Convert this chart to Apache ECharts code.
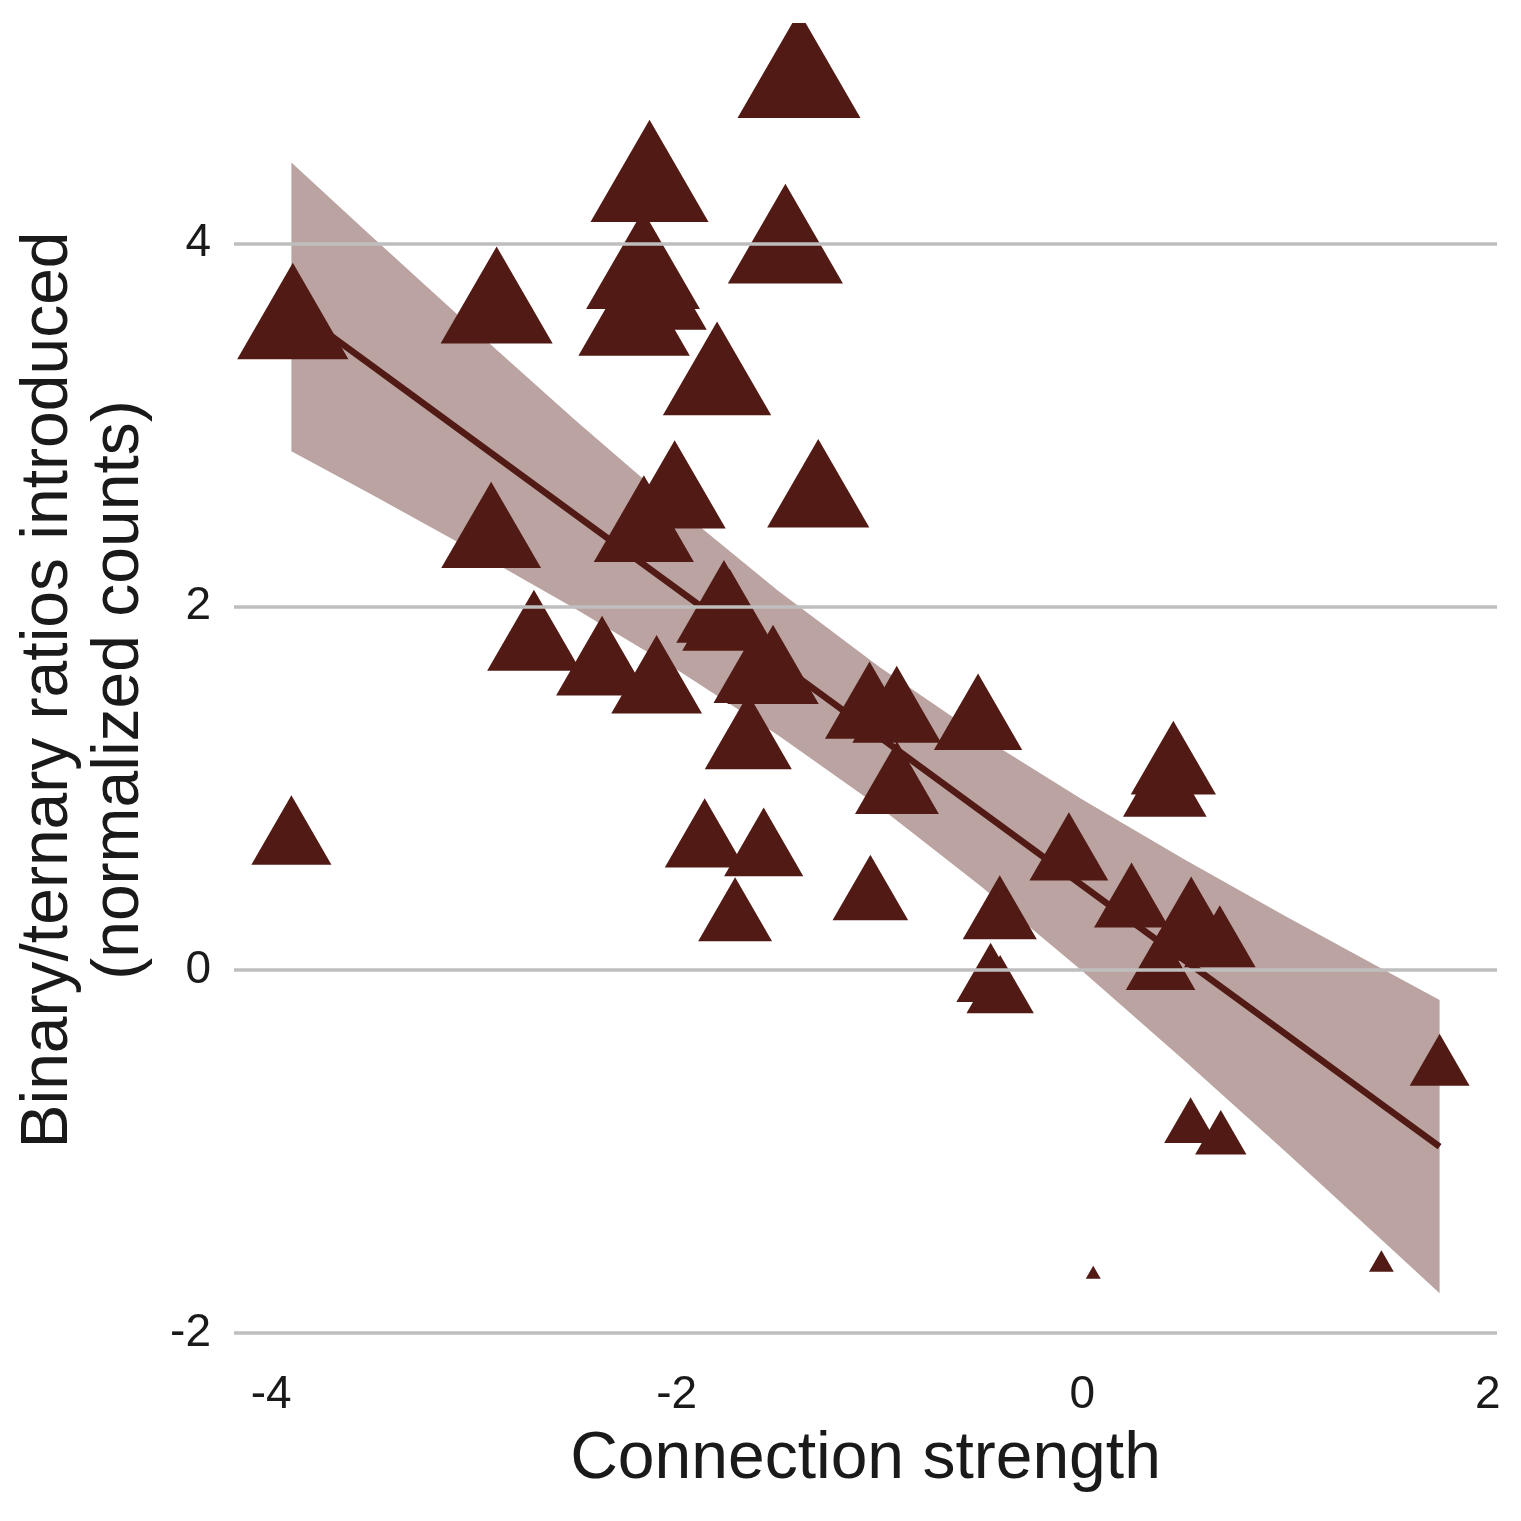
<!DOCTYPE html>
<html lang="en">
  <head>
    <meta charset="UTF-8" />
    <title>Connection strength vs binary/ternary ratios</title>
    <script src="https://cdn.jsdelivr.net/npm/echarts@6/dist/echarts.min.js"></script>
    <style>
      html, body { margin: 0; padding: 0; background: #fff; }
      #main { width: 1521px; height: 1521px; }
    </style>
  </head>
  <body>
    <div id="main"></div>

    <script>
      // points (x = connection strength, y = normalized counts)
      const pointX = [
        -3.893, -2.888, -1.397, -2.134, -1.464, -2.166, -2.130, -2.210, -1.801,
        -2.915, -2.010, -2.162, -1.302, -2.704, -2.368, -2.099, -1.767, -1.739,
        -1.525, -1.593, -1.647, -1.862, -1.571, -1.712, -1.045, -0.407, -0.452,
        -0.405, -1.049, -0.915, -0.514, -0.914, 0.449, 0.407, -0.066, 0.243,
        0.537, 0.493, 0.678, 0.386, 1.762, 0.534, 0.683, 0.054, 1.475, -3.900
      ];
      const pointY = [
        3.541, 3.628, 4.888, 4.307, 3.964, 3.821, 3.705, 3.560, 3.227,
        2.372, 2.593, 2.406, 2.599, 1.797, 1.658, 1.556, 1.954, 1.908,
        1.610, 1.616, 1.244, 0.691, 0.642, 0.275, 0.394, 0.286, -0.068,
        -0.132, 1.415, 1.392, 1.352, 0.992, 1.101, 0.977, 0.618, 0.353,
        0.279, 0.165, 0.128, 0.000, -0.543, -0.870, -0.935, -1.678, -1.624, 0.707
      ];

      // linear fit and its confidence band
      const fitX = [-3.9, -3.5, -3, -2.5, -2, -1.5, -1, -0.5, 0, 0.5, 1, 1.5, 1.762];
      const fitY = [3.652, 3.326, 2.917, 2.508, 2.100, 1.691, 1.283, 0.874, 0.466, 0.057, -0.351, -0.760, -0.974];
      const bandHigh = [4.447, 4.036, 3.527, 3.028, 2.546, 2.089, 1.669, 1.287, 0.938, 0.610, 0.297, -0.008, -0.166];
      const bandLow = [2.857, 2.616, 2.307, 1.989, 1.654, 1.293, 0.897, 0.461, -0.006, -0.496, -0.999, -1.511, -1.782];

      const xTicks = [-4, -2, 0, 2];
      const yTicks = [-2, 0, 2, 4];

      const dark = '#521a14';
      const font = "'Liberation Sans', Arial, Helvetica, sans-serif";

      // triangle width grows with the square root of the rescaled y value
      const yMin = Math.min(...pointY);
      const yMax = Math.max(...pointY);
      function triWidth(y) {
        return 15 + 108 * Math.sqrt((y - yMin) / (yMax - yMin));
      }

      const chart = echarts.init(document.getElementById('main'));

      chart.setOption({
        animation: false,
        backgroundColor: '#fff',
        grid: { left: 234, right: 24, top: 23, bottom: 187 },
        xAxis: {
          type: 'value',
          min: -4.183,
          max: 2.045,
          axisLine: { show: false },
          axisTick: { show: false },
          splitLine: { show: false },
          axisLabel: {
            customValues: xTicks,
            fontSize: 46,
            fontFamily: font,
            color: '#1a1a1a',
            margin: 38,
          },
        },
        yAxis: {
          type: 'value',
          min: -2.006,
          max: 5.216,
          axisLine: { show: false },
          axisTick: { show: false },
          splitLine: { show: false },
          axisLabel: {
            customValues: yTicks,
            fontSize: 46,
            fontFamily: font,
            color: '#1a1a1a',
            margin: 23,
          },
        },
        graphic: [
          {
            // panel clips the marks at its top edge
            type: 'rect',
            z: 100,
            silent: true,
            shape: { x: 0, y: 0, width: 1521, height: 23 },
            style: { fill: '#fff' },
          },
          {
            type: 'text',
            x: 865.5,
            y: 1460,
            style: {
              text: 'Connection strength',
              font: '66px ' + font,
              fill: '#1a1a1a',
              textAlign: 'center',
              textVerticalAlign: 'middle',
            },
          },
          {
            type: 'text',
            x: 49,
            y: 690,
            rotation: Math.PI / 2,
            style: {
              text: 'Binary/ternary ratios introduced',
              font: '66px ' + font,
              fill: '#1a1a1a',
              textAlign: 'center',
              textVerticalAlign: 'middle',
            },
          },
          {
            type: 'text',
            x: 120,
            y: 690,
            rotation: Math.PI / 2,
            style: {
              text: '(normalized counts)',
              font: '66px ' + font,
              fill: '#1a1a1a',
              textAlign: 'center',
              textVerticalAlign: 'middle',
            },
          },
        ],
        series: [
          {
            // horizontal grid lines
            type: 'line',
            data: [],
            silent: true,
            markLine: {
              silent: true,
              symbol: ['none', 'none'],
              label: { show: false },
              lineStyle: { color: '#bebebe', width: 3.5, type: 'solid' },
              emphasis: { disabled: true },
              data: yTicks.map((v) => ({ yAxis: v })),
            },
          },
          {
            // confidence band
            type: 'custom',
            silent: true,
            data: [[fitX[0], fitY[0]]],
            renderItem: function (params, api) {
              const pts = [];
              for (let i = 0; i < fitX.length; i++) {
                pts.push(api.coord([fitX[i], bandHigh[i]]));
              }
              for (let i = fitX.length - 1; i >= 0; i--) {
                pts.push(api.coord([fitX[i], bandLow[i]]));
              }
              return {
                type: 'polygon',
                shape: { points: pts },
                style: { fill: 'rgba(82, 26, 20, 0.4)' },
              };
            },
          },
          {
            type: 'line',
            silent: true,
            showSymbol: false,
            data: fitX.map((x, i) => [x, fitY[i]]),
            lineStyle: { color: dark, width: 6.5 },
          },
          {
            type: 'scatter',
            silent: true,
            symbol: 'triangle',
            symbolSize: function (val) {
              const w = triWidth(val[1]);
              return [w, w * 0.866];
            },
            symbolOffset: [0, '-16.667%'],
            itemStyle: { color: dark, opacity: 1 },
            data: pointX.map((x, i) => [x, pointY[i]]),
          },
        ],
      });

      window.onresize = function () {
        chart.resize();
      };
    </script>
  </body>
</html>
